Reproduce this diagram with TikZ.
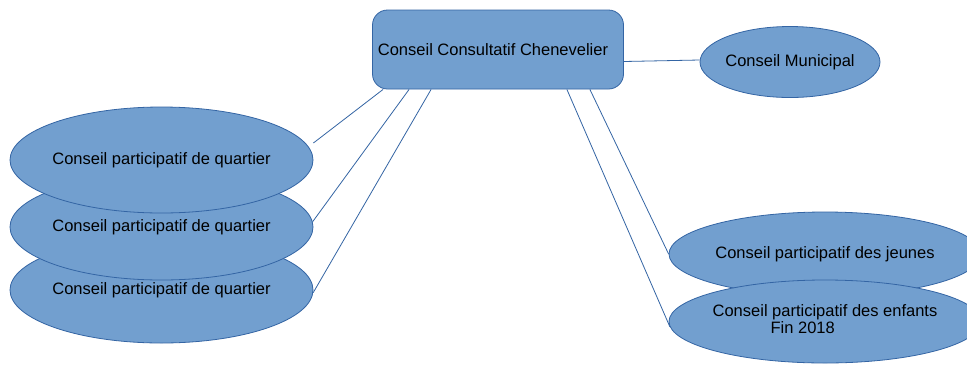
\documentclass[tikz,border=0pt]{standalone}
\usepackage{fontspec}
\setmainfont{Liberation Sans}
\usetikzlibrary{shapes.geometric}
\definecolor{boxfill}{HTML}{729FCF}
\definecolor{boxline}{HTML}{3465A4}
\tikzset{
  ell/.style={ellipse, draw=boxline, fill=boxfill, line width=0.8pt, inner sep=0pt, text=black,
    font=\fontsize{16.5}{18.5}\selectfont},
  rbox/.style={rectangle, rounded corners=15pt, draw=boxline, fill=boxfill, line width=0.8pt, inner sep=0pt, text=black,
    font=\fontsize{16.5}{18.5}\selectfont},
  link/.style={draw=boxline, line width=0.8pt}
}
\begin{document}
\begin{tikzpicture}[x=1pt,y=-1pt]
\clip (0,0) rectangle (967,365);
\fill[white] (0,0) rectangle (967,365);
% central box
\node[rbox, minimum width=251pt, minimum height=79pt] (cc) at (498,49.5) {\makebox[0pt]{\hspace*{-10pt}Conseil Consultatif Chenevelier}};
% municipal
\node[ell, minimum width=180pt, minimum height=71pt] (cm) at (790,62) {\makebox[0pt]{Conseil Municipal}};
% quartier ellipses (bottom first)
\node[ell, minimum width=303pt, minimum height=106pt] (q3) at (161.5,290) {\makebox[0pt]{Conseil participatif de quartier}};
\node[ell, minimum width=303pt, minimum height=106pt] (q2) at (161.5,227) {\makebox[0pt]{Conseil participatif de quartier}};
\node[ell, minimum width=303pt, minimum height=106pt] (q1) at (161.5,160) {\makebox[0pt]{Conseil participatif de quartier}};
% right ellipses
\node[ell, minimum width=312pt, minimum height=84pt] (je) at (825,254) {\makebox[0pt]{Conseil participatif des jeunes}};
\node[ell, minimum width=312pt, minimum height=83pt] (en) at (825,321.5) {\makebox[0pt]{\begin{tabular}{@{}l@{}}Conseil participatif des enfants\\[-1pt]\hspace*{58pt}Fin 2018\end{tabular}}};
% connectors
\draw[link] ([yshift=-12pt]cc.east) -- ([yshift=2pt]cm.west);
\draw[link] ([xshift=11pt]cc.south west) -- ([yshift=17pt]q1.east);
\draw[link] ([xshift=37pt]cc.south west) -- (q2.2);
\draw[link] ([xshift=59pt]cc.south west) -- (q3.-1);
\draw[link] ([xshift=-34pt]cc.south east) -- (je.west);
\draw[link] ([xshift=-57pt]cc.south east) -- (en.182);
\end{tikzpicture}
\end{document}
